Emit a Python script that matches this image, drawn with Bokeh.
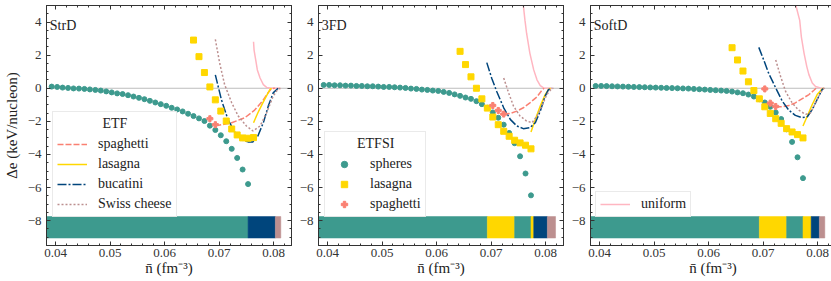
from bokeh.plotting import figure
from bokeh.models import (LinearAxis, SingleIntervalTicker, PrintfTickFormatter, Range1d,
                          Legend, LegendItem, Label, Span, CustomLabelingPolicy)
from bokeh.layouts import row
from bokeh.embed import file_html
from bokeh.resources import INLINE

FONT = "Liberation Serif"

# ---------------- data ----------------
n_grid = [0.0393, 0.0403, 0.0413, 0.0423, 0.0433, 0.0443, 0.0453, 0.0463, 0.0473, 0.0483,
          0.0493, 0.0503, 0.0513, 0.0523, 0.0533, 0.0543, 0.0553, 0.0563, 0.0573, 0.0583,
          0.0593, 0.0603, 0.0613, 0.0623, 0.0633, 0.0643, 0.0653, 0.0663, 0.0673, 0.0683,
          0.0693, 0.0703, 0.0713, 0.0723, 0.0733, 0.0743, 0.0753, 0.0763, 0.0773]

# ---- StrD ----
strd_sph_n = n_grid[:37]
strd_sph_e = [0.10, 0.08, 0.04, 0.02, -0.01, -0.02, -0.04, -0.07, -0.10, -0.14, -0.19, -0.25,
              -0.31, -0.35, -0.42, -0.50, -0.58, -0.66, -0.76, -0.86, -0.96, -1.06, -1.18,
              -1.28, -1.40, -1.54, -1.68, -1.82, -1.98, -2.26, -2.52, -2.84, -3.20, -3.66,
              -4.21, -4.91, -5.79]
strd_las_n = n_grid[26:38]
strd_las_e = [2.91, 1.91, 0.95, 0.08, -0.70, -1.38, -1.98, -2.46, -2.82, -3.00, -3.02, -2.98]
strd_spa_n = [0.0683, 0.0693]
strd_spa_e = [-1.84, -2.20]
strd_etf_spa_n = [0.0693, 0.0699, 0.0723, 0.0747, 0.0765, 0.0780, 0.0789, 0.0796, 0.0802]
strd_etf_spa_e = [-2.18, -2.24, -2.08, -1.78, -1.32, -0.75, -0.30, -0.02, 0.0]
strd_etf_las_n = [0.0763, 0.0771, 0.0780, 0.0787, 0.0793, 0.0796]
strd_etf_las_e = [-2.08, -1.48, -0.88, -0.44, -0.08, 0.0]
strd_etf_buc_n = [0.0693, 0.0704, 0.0716, 0.0729, 0.0741, 0.0753, 0.0762, 0.0771, 0.0781,
                  0.0790, 0.0799, 0.0808]
strd_etf_buc_e = [0.81, -0.68, -1.88, -2.68, -3.12, -3.24, -3.24, -2.88, -2.08, -1.08, -0.28, 0.0]
strd_etf_swi_n = [0.0693, 0.0701, 0.0710, 0.0723, 0.0735, 0.0750, 0.0762, 0.0775, 0.0787,
                  0.0799, 0.0808, 0.0814]
strd_etf_swi_e = [2.95, 1.51, 0.22, -0.88, -1.68, -2.28, -2.58, -2.28, -1.48, -0.48, -0.04, 0.0]
strd_uni_n = [0.0763, 0.0764, 0.0767, 0.0770, 0.0775, 0.0781, 0.0787, 0.0796, 0.0812]
strd_uni_e = [2.81, 2.31, 1.71, 1.11, 0.62, 0.22, 0.05, 0.0, 0.0]
strd_phase_edges = [0.0380, 0.0753, 0.0803, 0.0813]
strd_phases = ["spheres", "bucatini", "Swiss cheese"]

# ---- 3FD ----
tfd_sph_n = n_grid[:39]
tfd_sph_e = [0.20, 0.20, 0.18, 0.18, 0.16, 0.16, 0.14, 0.14, 0.12, 0.12, 0.10, 0.08, 0.08,
             0.06, 0.04, 0.02, -0.02, -0.04, -0.08, -0.10, -0.14, -0.16, -0.22, -0.28, -0.37,
             -0.46, -0.56, -0.64, -0.78, -0.96, -1.18, -1.46, -1.78, -2.20, -2.70, -3.32,
             -4.11, -5.15, -6.47]
tfd_las_n = n_grid[25:39]
tfd_las_e = [2.23, 1.43, 0.69, 0.0, -0.64, -1.20, -1.74, -2.20, -2.60, -2.90, -3.14, -3.30,
             -3.44, -3.66]
tfd_spa_n = [0.0703, 0.0713, 0.0723]
tfd_spa_e = [-1.04, -1.34, -1.56]
tfd_etf_spa_n = [0.0723, 0.0735, 0.0747, 0.0759, 0.0771, 0.0784, 0.0793, 0.0797]
tfd_etf_spa_e = [-1.56, -1.52, -1.38, -1.18, -0.88, -0.52, -0.12, 0.0]
tfd_etf_las_n = [0.0773, 0.0781, 0.0790, 0.0799, 0.0805, 0.0809]
tfd_etf_las_e = [-2.64, -1.88, -1.08, -0.38, -0.08, 0.0]
tfd_etf_buc_n = [0.0692, 0.0701, 0.0710, 0.0723, 0.0735, 0.0747, 0.0759, 0.0771, 0.0781,
                 0.0790, 0.0799, 0.0805, 0.0811]
tfd_etf_buc_e = [1.55, 0.61, -0.18, -1.18, -1.88, -2.28, -2.44, -2.38, -2.08, -1.38, -0.48,
                 -0.08, 0.0]
tfd_etf_swi_n = [0.0723, 0.0732, 0.0741, 0.0753, 0.0765, 0.0775, 0.0784, 0.0793, 0.0802,
                 0.0811, 0.0814]
tfd_etf_swi_e = [0.62, -0.28, -1.08, -1.68, -1.98, -2.08, -1.68, -1.08, -0.38, -0.02, 0.0]
tfd_uni_n = [0.0757, 0.0759, 0.0762, 0.0765, 0.0771, 0.0778, 0.0784, 0.0790, 0.0796, 0.0812]
tfd_uni_e = [5.8, 5.0, 4.1, 3.31, 2.11, 1.11, 0.51, 0.16, 0.02, 0.0]
tfd_phase_edges = [0.0380, 0.0693, 0.0743, 0.0773, 0.0778, 0.0803, 0.0818]
tfd_phases = ["spheres", "lasagna", "spheres", "lasagna", "bucatini", "Swiss cheese"]

# ---- SoftD ----
sfd_sph_n = n_grid[:39]
sfd_sph_e = [0.14, 0.14, 0.13, 0.12, 0.11, 0.10, 0.09, 0.08, 0.07, 0.06, 0.05, 0.04, 0.03,
             0.02, 0.01, 0.0, -0.01, -0.02, -0.04, -0.06, -0.08, -0.10, -0.12, -0.14, -0.16,
             -0.20, -0.25, -0.30, -0.38, -0.50, -0.66, -0.86, -1.12, -1.46, -1.86, -2.48,
             -3.24, -4.17, -5.43]
sfd_las_n = n_grid[25:39]
sfd_las_e = [2.45, 1.71, 1.04, 0.39, -0.14, -0.64, -1.12, -1.52, -1.84, -2.12, -2.44, -2.64,
             -2.80, -3.0]
sfd_spa_n = [0.0703, 0.0713, 0.0723]
sfd_spa_e = [-0.04, -0.90, -1.10]
sfd_etf_spa_n = [0.0723, 0.0735, 0.0747, 0.0759, 0.0771, 0.0784, 0.0793, 0.0797]
sfd_etf_spa_e = [-1.12, -1.12, -1.04, -0.88, -0.64, -0.38, -0.12, 0.0]
sfd_etf_las_n = [0.0773, 0.0781, 0.0790, 0.0799, 0.0808, 0.0811]
sfd_etf_las_e = [-2.28, -1.68, -0.98, -0.38, -0.04, 0.0]
sfd_etf_buc_n = [0.0692, 0.0701, 0.0710, 0.0723, 0.0735, 0.0747, 0.0759, 0.0771, 0.0781,
                 0.0790, 0.0799, 0.0808, 0.0811]
sfd_etf_buc_e = [2.47, 1.71, 0.91, 0.02, -0.78, -1.32, -1.64, -1.78, -1.72, -1.28, -0.68,
                 -0.08, 0.0]
sfd_etf_swi_n = [0.0723, 0.0732, 0.0741, 0.0753, 0.0765, 0.0778, 0.0787, 0.0796, 0.0805,
                 0.0811, 0.0814]
sfd_etf_swi_e = [1.71, 0.71, -0.18, -0.88, -1.32, -1.58, -1.48, -0.88, -0.28, -0.02, 0.0]
sfd_uni_n = [0.0757, 0.0760, 0.0767, 0.0770, 0.0775, 0.0780, 0.0784, 0.0790, 0.0796, 0.0805,
             0.0812]
sfd_uni_e = [5.8, 5.0, 4.1, 3.11, 2.11, 1.31, 0.81, 0.32, 0.11, 0.02, 0.0]
sfd_phase_edges = [0.0380, 0.0693, 0.0743, 0.0773, 0.0788, 0.0803, 0.0813]
sfd_phases = ["spheres", "lasagna", "spheres", "lasagna", "bucatini", "Swiss cheese"]

panel_names = ["StrD", "3FD", "SoftD"]
legend_titles = ["ETF", "ETFSI", None]
y_ticks = [-8, -6, -4, -2, 0, 2, 4]
y_tick_labels = ["\u22128", "\u22126", "\u22124", "\u22122", "0", "2", "4"]

# ---------------- style ----------------
C_SPH = "#3d9a8e"
C_LAS = "#ffd700"
C_SPA = "#fa8072"
C_BUC = "#00457c"
C_SWI = "#bc8f8f"
C_UNI = "#ffb6c1"
phase_color = {"spheres": C_SPH, "lasagna": C_LAS, "spaghetti": C_SPA,
               "bucatini": C_BUC, "Swiss cheese": C_SWI}

XMIN, XMAX = 0.03835, 0.08326
YMIN, YMAX = -9.5, 5.0
FW, FH = 245, 240
BAR_Y, BAR_H = -8.4, 1.3
NBSP = "\u00a0"


def style_axis(ax, show_labels, vertical):
    ax.major_tick_in = 4
    ax.major_tick_out = 0
    ax.minor_tick_in = 2
    ax.minor_tick_out = 0
    ax.axis_line_color = "#333333"
    ax.major_tick_line_color = "#333333"
    ax.minor_tick_line_color = "#333333"
    ax.major_label_text_font = FONT
    ax.major_label_text_color = "#333333"
    if show_labels:
        ax.major_label_text_font_size = "13px"
        ax.major_label_standoff = 5 if vertical else 3
    else:
        ax.major_label_text_font_size = "1px"
        ax.major_label_standoff = 0
        ax.major_label_policy = CustomLabelingPolicy(code="return []")
    ax.axis_label_text_font = FONT
    ax.axis_label_text_font_style = "normal"
    ax.axis_label_text_font_size = "15px"
    ax.axis_label_text_color = "#222222"
    ax.axis_label_standoff = 5 if vertical else 0


def make_panel(i, d, left_border, right_border):
    p = figure(frame_width=FW, frame_height=FH, x_range=Range1d(XMIN, XMAX),
               y_range=Range1d(YMIN, YMAX), output_backend="svg", toolbar_location=None,
               x_axis_type=None, y_axis_type=None,
               min_border_left=left_border, min_border_right=right_border,
               min_border_top=5, min_border_bottom=34)
    p.outline_line_color = "#333333"
    p.background_fill_color = "white"
    p.border_fill_color = "white"

    for side in ["below", "above"]:
        ax = LinearAxis(ticker=SingleIntervalTicker(interval=0.01, num_minor_ticks=5),
                        formatter=PrintfTickFormatter(format="%.2f"))
        style_axis(ax, side == "below", False)
        if side == "below":
            ax.axis_label = "n\u0304 (fm\u207b\u00b3)"
        p.add_layout(ax, side)
    for side in ["left", "right"]:
        ax = LinearAxis(ticker=SingleIntervalTicker(interval=2, num_minor_ticks=4),
                        major_label_overrides={t: s for t, s in zip(y_ticks, y_tick_labels)})
        style_axis(ax, side == "left", True)
        if side == "left" and i == 0:
            ax.axis_label = "\u0394e (keV/nucleon)"
        p.add_layout(ax, side)

    # phase bar
    edges, phases = d["edges"], d["phases"]
    p.hbar(y=[BAR_Y] * len(phases), left=edges[:-1], right=edges[1:], height=BAR_H,
           fill_color=[phase_color[ph] for ph in phases],
           line_color=[phase_color[ph] for ph in phases], line_width=0.5)

    p.add_layout(Span(location=0, dimension="width", line_color="#bdbdbd", line_width=1,
                      level="underlay"))

    r_uni = p.line(d["uni_n"], d["uni_e"], line_color=C_UNI, line_width=1.5)
    r_spa = p.line(d["etf_spa_n"], d["etf_spa_e"], line_color=C_SPA, line_width=1.5,
                   line_dash="6 2")
    r_las = p.line(d["etf_las_n"], d["etf_las_e"], line_color=C_LAS, line_width=1.5)
    r_buc = p.line(d["etf_buc_n"], d["etf_buc_e"], line_color=C_BUC, line_width=1.5,
                   line_dash="9 2 2 2")
    r_swi = p.line(d["etf_swi_n"], d["etf_swi_e"], line_color=C_SWI, line_width=1.5,
                   line_dash="2 2")

    m_sph = p.scatter(d["sph_n"], d["sph_e"], marker="circle", size=5, fill_color=C_SPH,
                      line_color=C_SPH)
    m_las = p.scatter(d["las_n"], d["las_e"], marker="square", size=6, fill_color=C_LAS,
                      line_color=C_LAS)
    m_spa = p.scatter(d["spa_n"], d["spa_e"], marker="plus", size=6, fill_color=C_SPA,
                      line_color=C_SPA)

    p.add_layout(Label(x=0.03896, y=3.8, text=panel_names[i], text_font=FONT,
                       text_font_size="14px", text_baseline="middle", text_color="#222222"))

    common = dict(label_text_font=FONT, label_text_font_size="14px",
                  label_text_color="#222222", glyph_width=30, glyph_height=16,
                  label_height=16, spacing=4, padding=4, margin=0, label_standoff=11,
                  border_line_color="#d6d6d6", border_line_width=1,
                  background_fill_alpha=0.85,
                  title_text_font=FONT, title_text_font_size="14px",
                  title_text_font_style="normal", title_text_color="#222222",
                  title_standoff=4)
    if i == 0:
        lg = Legend(items=[LegendItem(label="spaghetti", renderers=[r_spa]),
                           LegendItem(label="lasagna", renderers=[r_las]),
                           LegendItem(label="bucatini", renderers=[r_buc]),
                           LegendItem(label="Swiss cheese", renderers=[r_swi])],
                    title=NBSP * 13 + legend_titles[0], location=(6, 28), **common)
    elif i == 1:
        lg = Legend(items=[LegendItem(label="spheres", renderers=[m_sph]),
                           LegendItem(label="lasagna", renderers=[m_las]),
                           LegendItem(label="spaghetti", renderers=[m_spa])],
                    title=NBSP * 8 + legend_titles[1], location=(6, 28), **common)
    else:
        lg = Legend(items=[LegendItem(label="uniform", renderers=[r_uni])],
                    location=(5, 28), **common)
    p.add_layout(lg)
    return p


data = [
    dict(sph_n=strd_sph_n, sph_e=strd_sph_e, las_n=strd_las_n, las_e=strd_las_e,
         spa_n=strd_spa_n, spa_e=strd_spa_e, etf_spa_n=strd_etf_spa_n, etf_spa_e=strd_etf_spa_e,
         etf_las_n=strd_etf_las_n, etf_las_e=strd_etf_las_e, etf_buc_n=strd_etf_buc_n,
         etf_buc_e=strd_etf_buc_e, etf_swi_n=strd_etf_swi_n, etf_swi_e=strd_etf_swi_e,
         uni_n=strd_uni_n, uni_e=strd_uni_e, edges=strd_phase_edges, phases=strd_phases),
    dict(sph_n=tfd_sph_n, sph_e=tfd_sph_e, las_n=tfd_las_n, las_e=tfd_las_e,
         spa_n=tfd_spa_n, spa_e=tfd_spa_e, etf_spa_n=tfd_etf_spa_n, etf_spa_e=tfd_etf_spa_e,
         etf_las_n=tfd_etf_las_n, etf_las_e=tfd_etf_las_e, etf_buc_n=tfd_etf_buc_n,
         etf_buc_e=tfd_etf_buc_e, etf_swi_n=tfd_etf_swi_n, etf_swi_e=tfd_etf_swi_e,
         uni_n=tfd_uni_n, uni_e=tfd_uni_e, edges=tfd_phase_edges, phases=tfd_phases),
    dict(sph_n=sfd_sph_n, sph_e=sfd_sph_e, las_n=sfd_las_n, las_e=sfd_las_e,
         spa_n=sfd_spa_n, spa_e=sfd_spa_e, etf_spa_n=sfd_etf_spa_n, etf_spa_e=sfd_etf_spa_e,
         etf_las_n=sfd_etf_las_n, etf_las_e=sfd_etf_las_e, etf_buc_n=sfd_etf_buc_n,
         etf_buc_e=sfd_etf_buc_e, etf_swi_n=sfd_etf_swi_n, etf_swi_e=sfd_etf_swi_e,
         uni_n=sfd_uni_n, uni_e=sfd_uni_e, edges=sfd_phase_edges, phases=sfd_phases),
]

p1 = make_panel(0, data[0], 42, 5)
p2 = make_panel(1, data[1], 20, 5)
p3 = make_panel(2, data[2], 20, 2)

layout = row(p1, p2, p3)
open("out.html", "w").write(file_html(layout, INLINE))
